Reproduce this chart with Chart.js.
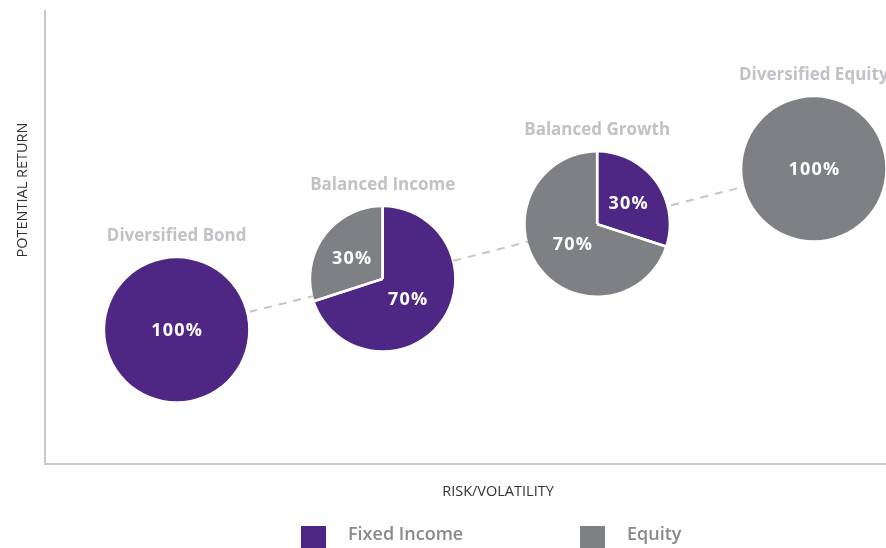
<!DOCTYPE html>
<html>
<head>
<meta charset="utf-8">
<script src="https://cdn.jsdelivr.net/npm/chart.js@4.4.1/dist/chart.umd.min.js"></script>
<style>
html,body{margin:0;padding:0;background:#fff;}
#wrap{width:886px;height:548px;position:relative;}
</style>
</head>
<body>
<div id="wrap"><canvas id="c" width="886" height="548"></canvas></div>
<script>
// ---- data ----
const portfolios = ['Diversified Bond', 'Balanced Income', 'Balanced Growth', 'Diversified Equity'];
const riskLevel = [1, 1.97, 2.98, 4];
const returnLevel = [1, 1.95, 2.97, 4];
const fixedIncomePct = [100, 70, 30, 0];
const equityPct = [0, 30, 70, 100];
const seriesNames = ['Fixed Income', 'Equity'];
const xAxisTitle = 'RISK/VOLATILITY';
const yAxisTitle = 'POTENTIAL RETURN';

// ---- styles ----
const FONT = '"Open Sans", "DejaVu Sans", sans-serif';
const COLORS = ['#4e2683', '#7f8084'];
const PIE_RADIUS = 71.5;

const points = riskLevel.map((x, i) => ({x: x, y: returnLevel[i]}));

const piePlugin = {
  id: 'pies',
  afterDatasetsDraw(chart) {
    const ctx = chart.ctx;
    const xs = chart.scales.x, ys = chart.scales.y;
    portfolios.forEach((name, i) => {
      const cx = xs.getPixelForValue(riskLevel[i]);
      const cy = ys.getPixelForValue(returnLevel[i]);
      const vals = [fixedIncomePct[i], equityPct[i]];
      const total = vals[0] + vals[1];
      let a = -Math.PI / 2;
      const bounds = [];
      const labels = [];
      vals.forEach((v, k) => {
        if (v <= 0) return;
        const sweep = v / total * Math.PI * 2;
        ctx.save();
        ctx.beginPath();
        if (v === total) {
          ctx.arc(cx, cy, PIE_RADIUS, 0, Math.PI * 2);
        } else {
          ctx.moveTo(cx, cy);
          ctx.arc(cx, cy, PIE_RADIUS, a, a + sweep);
          ctx.closePath();
        }
        ctx.fillStyle = COLORS[k];
        ctx.fill();
        ctx.restore();
        const frac = v / total;
        const mid = a + sweep / 2;
        const rf = frac === 1 ? 0 : (0.614 - 0.2625 * frac) * PIE_RADIUS;
        const dy = frac === 1 ? 1 : 2.5;
        labels.push({x: cx + Math.cos(mid) * rf, y: cy + Math.sin(mid) * rf + dy, t: v + '%'});
        if (v !== total) bounds.push(a, a + sweep);
        a += sweep;
      });
      // white separators
      ctx.save();
      ctx.strokeStyle = '#ffffff';
      ctx.lineWidth = 2.5;
      bounds.forEach(b => {
        ctx.beginPath();
        ctx.moveTo(cx, cy);
        ctx.lineTo(cx + Math.cos(b) * (PIE_RADIUS + 1), cy + Math.sin(b) * (PIE_RADIUS + 1));
        ctx.stroke();
      });
      ctx.restore();
      // percent labels
      ctx.save();
      ctx.fillStyle = '#ffffff';
      ctx.font = 'bold 18px ' + FONT;
      ctx.letterSpacing = '1.2px';
      ctx.textAlign = 'center';
      ctx.textBaseline = 'middle';
      labels.forEach(l => ctx.fillText(l.t, l.x + 0.6, l.y));
      ctx.letterSpacing = '0px';
      // portfolio name
      ctx.fillStyle = '#c2c2c6';
      ctx.font = 'bold 17px ' + FONT;
      ctx.fillText(name, cx, cy - 94);
      ctx.restore();
    });
  },
  afterDraw(chart) {
    const ctx = chart.ctx;
    const area = chart.chartArea;
    ctx.save();
    // axis titles
    ctx.fillStyle = '#333333';
    ctx.font = '14.5px ' + FONT;
    ctx.textAlign = 'center';
    ctx.textBaseline = 'middle';
    ctx.fillText(xAxisTitle, 498, area.bottom + 28);
    ctx.save();
    ctx.translate(23, 190);
    ctx.rotate(-Math.PI / 2);
    ctx.fillText(yAxisTitle, 0, 0);
    ctx.restore();
    // legend
    const legendX = [301, 580];
    ctx.font = '600 18px ' + FONT;
    ctx.textAlign = 'left';
    seriesNames.forEach((n, k) => {
      ctx.fillStyle = COLORS[k];
      ctx.fillRect(legendX[k], 526, 25, 22);
      ctx.fillStyle = '#898989';
      ctx.fillText(n, legendX[k] + 47, 535);
    });
    ctx.restore();
  }
};

new Chart(document.getElementById('c'), {
  type: 'scatter',
  data: {
    datasets: [{
      label: 'trend',
      data: points,
      showLine: true,
      borderColor: '#c6c6c6',
      borderWidth: 2,
      borderDash: [8, 7],
      pointRadius: 0,
      fill: false
    }]
  },
  options: {
    responsive: false,
    animation: false,
    events: [],
    layout: {padding: {left: 45, top: 11, right: 0, bottom: 84}},
    plugins: {legend: {display: false}, tooltip: {enabled: false}},
    scales: {
      x: {
        type: 'linear', min: 0.38, max: 4.34,
        grid: {display: false, drawTicks: false},
        ticks: {display: false},
        border: {display: true, color: '#c8c8c8', width: 2}
      },
      y: {
        type: 'linear', min: -1.5, max: 6.94,
        grid: {display: false, drawTicks: false},
        ticks: {display: false},
        border: {display: true, color: '#c8c8c8', width: 2}
      }
    }
  },
  plugins: [piePlugin]
});
</script>
</body>
</html>
